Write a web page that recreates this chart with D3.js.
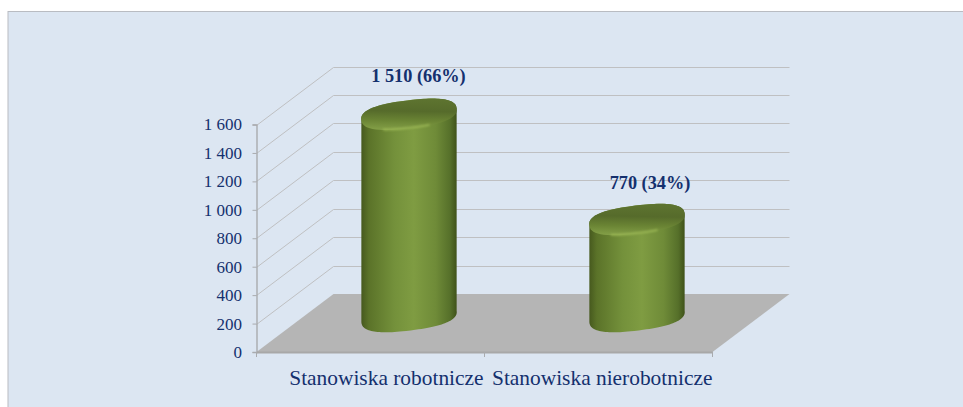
<!DOCTYPE html>
<html>
<head>
<meta charset="utf-8">
<script src="https://cdn.jsdelivr.net/npm/d3@7"></script>
<style>
    html, body { margin: 0; padding: 0; background: #fff; overflow: hidden; }
    text { font-family: "Liberation Serif", serif; fill: #14306e; }
</style>
</head>
<body>
<div id="chart"></div>
<script>
const categories = ["Stanowiska robotnicze", "Stanowiska nierobotnicze"];
const values = [1510, 770];
const barLabels = ["1 510 (66%)", "770 (34%)"];
const yTicks = [0, 200, 400, 600, 800, 1000, 1200, 1400, 1600];
const yTickLabels = ["0", "200", "400", "600", "800", "1 000", "1 200", "1 400", "1 600"];

const width = 963, height = 407;
const depthX = 77, depthY = 58; // how far the back wall sits from the front of the box

const svg = d3.select("#chart").append("svg")
    .attr("width", width)
    .attr("height", height)
    .style("display", "block");

const y = d3.scaleLinear().domain([0, 1600]).range([352, 124.5]);
const x = d3.scaleBand().domain(categories).range([256.5, 712.5]);

const defs = svg.append("defs");

// side of the cylinders
const bodyGrad = defs.append("linearGradient").attr("id", "body");
[[0, "#46591e"], [0.08, "#5b7329"], [0.35, "#74913b"], [0.55, "#7f9c42"], [0.78, "#6f8b38"], [0.93, "#56702a"], [1, "#3f5219"]]
    .forEach(d => bodyGrad.append("stop").attr("offset", d[0]).attr("stop-color", d[1]));

// lid of the cylinders
const topGrad = defs.append("linearGradient").attr("id", "lid")
    .attr("x1", 0.5).attr("y1", 0).attr("x2", 0.45).attr("y2", 1);
[[0, "#5e7430"], [0.4, "#566b2b"], [0.7, "#6a8434"], [1, "#839f47"]]
    .forEach(d => topGrad.append("stop").attr("offset", d[0]).attr("stop-color", d[1]));

const blur = defs.append("filter").attr("id", "soft")
    .attr("x", "-20%").attr("y", "-200%").attr("width", "140%").attr("height", "500%");
blur.append("feGaussianBlur").attr("stdDeviation", 1.1);

// panel
svg.append("rect")
    .attr("x", 8).attr("y", 11.5)
    .attr("width", 960).attr("height", 400)
    .attr("fill", "#dce6f2")
    .attr("stroke", "#b9bcc2")
    .attr("stroke-width", 1);

// floor
svg.append("path")
    .attr("d", d3.line()([
        [x.range()[0], y(0)],
        [x.range()[0] + depthX, y(0) - depthY],
        [x.range()[1] + depthX, y(0) - depthY],
        [x.range()[1], y(0)]
    ]) + "Z")
    .attr("fill", "#b5b5b5");

// gridlines along side wall and back wall
const grid = svg.append("g").attr("fill", "none").attr("stroke", "#bfc0c2").attr("stroke-width", 1);
yTicks.filter(d => d > 0).forEach(d => {
    grid.append("path").attr("d", d3.line()([
        [x.range()[0], Math.round(y(d)) + 0.5],
        [x.range()[0] + depthX, Math.round(y(d) - depthY) + 0.5],
        [x.range()[1] + depthX, Math.round(y(d) - depthY) + 0.5]
    ]));
});

// y axis
const yAxis = svg.append("g")
    .attr("transform", `translate(${x.range()[0]},0)`)
    .call(d3.axisLeft(y).tickValues(yTicks).tickFormat((d, i) => yTickLabels[i]).tickSize(4).tickPadding(10.5));
yAxis.selectAll("line").attr("stroke", "#a9abae");
yAxis.select(".domain").attr("stroke", "#a9abae").attr("stroke-width", 1.4);
yAxis.selectAll("text").attr("font-size", 17).style("fill", "#14306e");

// x axis
const xAxis = svg.append("g")
    .attr("transform", `translate(0,${y(0)})`)
    .call(d3.axisBottom(x).tickValues([]).tickSizeOuter(0));
xAxis.select(".domain").attr("stroke", "#a8a8a8").attr("stroke-width", 2);
const midTick = x.range()[0] + x.step();
svg.append("g").selectAll("line")
    .data([x.range()[0], midTick, x.range()[1]])
    .join("line")
    .attr("x1", d => d).attr("x2", d => d)
    .attr("y1", y(0)).attr("y2", y(0) + 5)
    .attr("stroke", "#a9abae");

// the two labels are too wide for their bands, so they sit either side of the middle tick
svg.append("g").selectAll("text")
    .data(categories)
    .join("text")
    .attr("x", (d, i) => i === 0 ? midTick - 1 : midTick + 7.5)
    .attr("y", 385)
    .attr("text-anchor", (d, i) => i === 0 ? "end" : "start")
    .attr("font-size", 21.4)
    .text(d => d);

// cylinders
const rx = 48, ry = 14, tilt = -7 * Math.PI / 180, squareness = 2.5;
const barX = d => x(d) + x.bandwidth() / 2 + 38.5;
const topY = v => y(v) - 23;
const baseY = y(0) - 35.5;

// points on a tilted, slightly squared ellipse between two angles
function rim(cx, cy, a0, a1) {
    return d3.range(0, 61).map(k => {
        const a = a0 + (a1 - a0) * k / 60;
        const c = Math.cos(a), s = Math.sin(a);
        const px = rx * Math.sign(c) * Math.pow(Math.abs(c), 2 / squareness);
        const py = ry * Math.sign(s) * Math.pow(Math.abs(s), 2 / squareness);
        return [cx + px * Math.cos(tilt) - py * Math.sin(tilt), cy + px * Math.sin(tilt) + py * Math.cos(tilt)];
    });
}

const bars = svg.append("g").selectAll("g")
    .data(categories.map((c, i) => ({ c, v: values[i], label: barLabels[i], i })))
    .join("g");

bars.append("path")
    .attr("fill", "url(#body)")
    .attr("d", d => d3.line()(
        rim(barX(d.c), baseY, 0, Math.PI).concat(rim(barX(d.c), topY(d.v), Math.PI, 2 * Math.PI))
    ) + "Z");

bars.append("path")
    .attr("fill", "url(#lid)")
    .attr("d", d => d3.line()(rim(barX(d.c), topY(d.v), 0, 2 * Math.PI)) + "Z");

// bright streak following the front rim of the lid
bars.append("path")
    .attr("fill", "none")
    .attr("stroke", "#a6c25c")
    .attr("stroke-width", 1.6)
    .attr("stroke-opacity", 0.85)
    .attr("filter", "url(#soft)")
    .attr("d", d => d3.line()(rim(barX(d.c), topY(d.v) - 0.5, 1.25, 2.1)));

bars.append("text")
    .attr("x", d => barX(d.c) + 9.5 + 3.5 * d.i)
    .attr("y", d => topY(d.v) - 32.5 + 1.5 * d.i)
    .attr("text-anchor", "middle")
    .attr("font-size", 18.3)
    .attr("font-weight", "bold")
    .text(d => d.label);
</script>
</body>
</html>
